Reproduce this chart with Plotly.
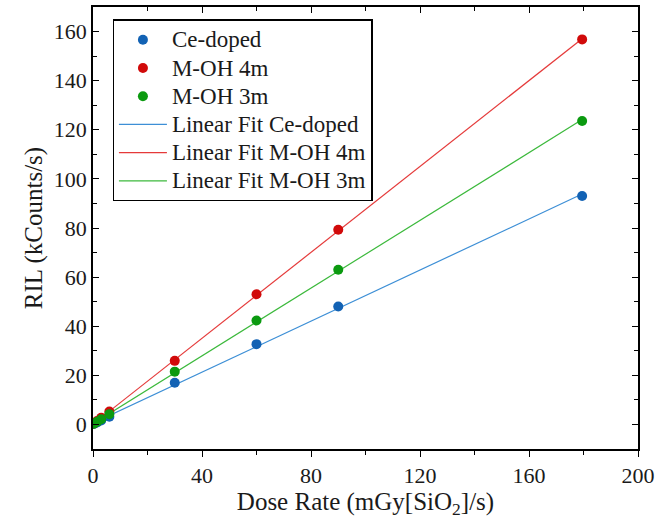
import numpy as np
import plotly.graph_objects as go

# Dose rate (mGy[SiO2]/s)
dose_rate = [0.3, 1.5, 3, 6, 30, 60, 90, 179.5]

# Radiation-induced luminescence (kCounts/s)
ril_ce_doped = [0.2, 0.8, 1.6, 3.1, 17.0, 32.7, 48.0, 93.0]
ril_moh_4m = [0.4, 1.4, 2.7, 5.3, 25.9, 53.0, 79.3, 156.8]
ril_moh_3m = [0.3, 1.1, 2.1, 4.2, 21.5, 42.3, 63.0, 123.6]

series = [
    ("Ce-doped", ril_ce_doped, "#1262b4", "#3d8fd6"),
    ("M-OH 4m", ril_moh_4m, "#d10a0a", "#e53a3a"),
    ("M-OH 3m", ril_moh_3m, "#0b9a10", "#3cb93c"),
]

FONT = "Times New Roman, Liberation Serif, DejaVu Serif, serif"
TXT = "#1a1a1a"


def legend_label(text):
    # larger label text inside the legend row
    return '<span style="font-size:23px">' + text + "</span>"


fig = go.Figure()

# Linear fits over the measured range (drawn first, under the markers)
x_fit = np.array([0.0, max(dose_rate)])
for rank, (name, y, _, lcol) in enumerate(series, start=4):
    slope, intercept = np.polyfit(dose_rate, y, 1)
    fig.add_trace(go.Scatter(
        x=x_fit, y=slope * x_fit + intercept, mode="lines",
        name=legend_label("Linear Fit " + name), legendrank=rank,
        line=dict(color=lcol, width=1.2),
    ))

for rank, (name, y, mcol, _) in enumerate(series, start=1):
    fig.add_trace(go.Scatter(
        x=dose_rate, y=y, mode="markers", name=legend_label(name), legendrank=rank,
        marker=dict(symbol="circle", size=10, color=mcol),
    ))

axis_common = dict(
    showline=True, linecolor="black", linewidth=1.5,
    showgrid=False, zeroline=False,
    ticklen=6, tickwidth=1.3, tickcolor="black",
    tickfont=dict(family=FONT, size=22, color=TXT),
)

fig.update_layout(
    width=662, height=523,
    margin=dict(l=93, r=19, t=7, b=74),
    plot_bgcolor="white", paper_bgcolor="white",
    font=dict(family=FONT, color=TXT),
    xaxis=dict(
        range=[0, 200], tickmode="linear", tick0=0, dtick=40,
        ticks="outside",
        minor=dict(dtick=20, ticks="outside", ticklen=4, tickcolor="black", tickwidth=1.2),
        title=dict(text="Dose Rate (mGy[SiO<sub>2</sub>]/s)",
                   font=dict(family=FONT, size=25, color=TXT), standoff=2),
        **axis_common,
    ),
    xaxis2=dict(
        overlaying="x", matches="x", side="top", showticklabels=False,
        range=[0, 200], tickmode="linear", tick0=0, dtick=40, ticks="inside",
        minor=dict(dtick=20, ticks="inside", ticklen=4, tickcolor="black", tickwidth=1.2),
        **axis_common,
    ),
    yaxis=dict(
        range=[-10, 170], tickmode="linear", tick0=0, dtick=20,
        ticks="inside", mirror="ticks",
        minor=dict(dtick=10, ticks="inside", ticklen=4, tickcolor="black", tickwidth=1.2),
        title=dict(text="RIL (kCounts/s)",
                   font=dict(family=FONT, size=25, color=TXT), standoff=4),
        **axis_common,
    ),
    legend=dict(
        x=0.036, y=0.972, xanchor="left", yanchor="top",
        bgcolor="white", bordercolor="black", borderwidth=1.3,
        font=dict(family=FONT, size=19.4, color=TXT),
        tracegroupgap=0, itemwidth=48,
    ),
    showlegend=True,
)

# Invisible trace that activates the top axis
fig.add_trace(go.Scatter(x=[0], y=[0], xaxis="x2", mode="markers",
                         marker=dict(opacity=0), showlegend=False, hoverinfo="skip"))

fig.write_html("out.html")
